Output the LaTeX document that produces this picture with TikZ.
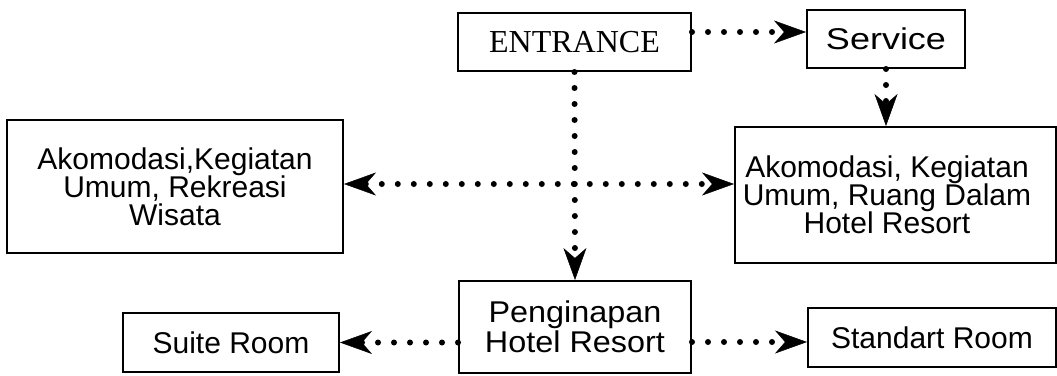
\documentclass[tikz,border=0pt]{standalone}
\usepackage{fontspec}
\setmainfont{Liberation Sans}
\newfontfamily\serifface{Liberation Serif}
\newfontfamily\widesans[FakeStretch=1.2]{Liberation Sans}
\newfontfamily\midsans[FakeStretch=1.08]{Liberation Sans}
\usetikzlibrary{arrows.meta}
\begin{document}
\begin{tikzpicture}[x=1pt,y=-1pt,
  box/.style={draw=black, line width=2pt, inner sep=0pt, align=center, font=\fontsize{30}{28}\selectfont},
  txt/.style={inner sep=0pt, align=center, font=\fontsize{30}{28}\selectfont},
  dotline/.style={line width=6pt, line cap=round, dash pattern=on 0pt off 16pt},
  tipend/.style={-{Stealth[length=32pt,width=23pt,inset=10pt,line width=0.5pt]}},
  tipboth/.style={{Stealth[length=32pt,width=23pt,inset=10pt,line width=0.5pt]}-{Stealth[length=32pt,width=23pt,inset=10pt,line width=0.5pt]}}]
\useasboundingbox (0,0) rectangle (1057,375);

\node[box, minimum width=233pt, minimum height=58pt, font=\serifface\fontsize{32}{32}\selectfont] (ent) at (574.5,42) {ENTRANCE};
\node[box, minimum width=158pt, minimum height=58pt, font=\widesans\fontsize{30}{28}\selectfont] (svc) at (886,39) {Service};
\node[box, minimum width=336pt, minimum height=133pt] (akl) at (175,186.5) {Akomodasi,Kegiatan\\Umum, Rekreasi\\Wisata};
\node[box, minimum width=321pt, minimum height=136pt] (akr) at (895.5,195) {};
\node[txt] (akrt) at (887,195) {Akomodasi, Kegiatan\\Umum, Ruang Dalam\\Hotel Resort};
\node[box, minimum width=232pt, minimum height=92pt, font=\midsans\fontsize{30}{30}\selectfont] (pen) at (575,327) {Penginapan\\Hotel Resort};
\node[box, minimum width=216pt, minimum height=59pt] (suite) at (231,342.5) {Suite Room};
\node[box, minimum width=248pt, minimum height=59pt] (std) at (932,337.5) {Standart Room};

\draw[dotline, tipend] ([yshift=10pt]ent.east) -- ([yshift=7pt]svc.west);
\draw[dotline, tipend] (svc.south) -- (svc.south |- akr.north);
\draw[dotline, tipend] (ent.south) -- (pen.north);
\draw[dotline, tipboth] ([yshift=2.5pt]akl.east) -- ([yshift=2.5pt]akl.east -| akr.west);
\draw[dotline, tipend] (pen.west |- suite.east) -- (suite.east);
\draw[dotline, tipend] ([yshift=-4.5pt]pen.east |- std.west) -- ([yshift=-4.5pt]std.west);
\end{tikzpicture}
\end{document}
